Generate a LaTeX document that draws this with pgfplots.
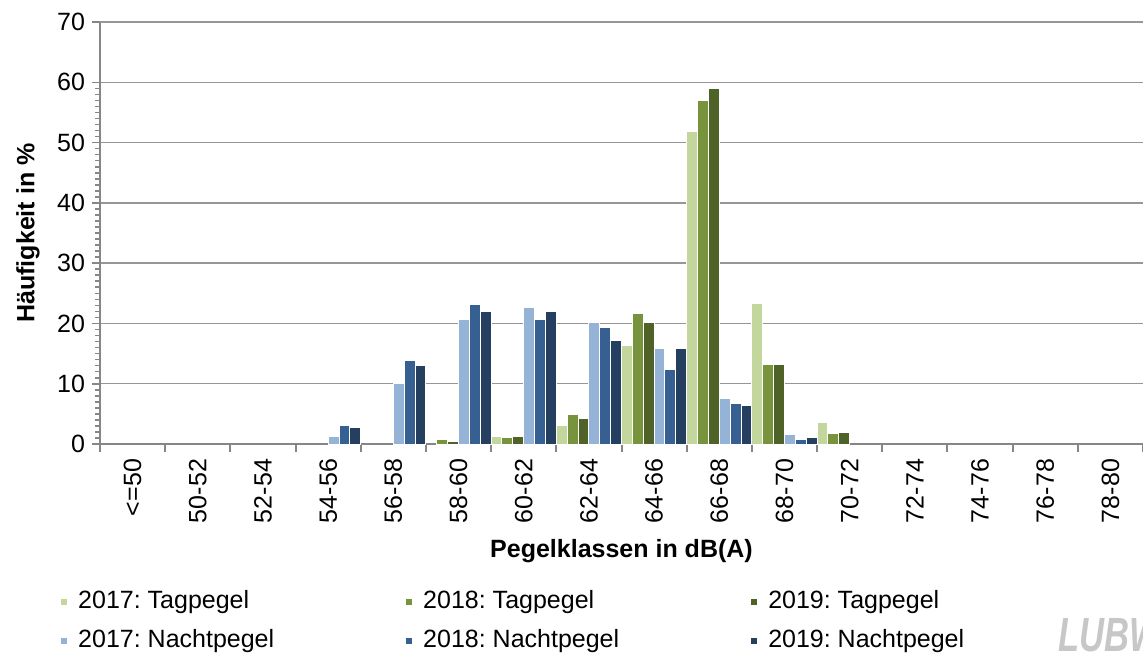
\documentclass[border=0pt]{standalone}
\usepackage{fontspec}
\setmainfont{Liberation Sans}
\usepackage{pgfplots}
\pgfplotsset{compat=1.18}
\definecolor{tA}{HTML}{C3D69B}
\definecolor{tB}{HTML}{77933C}
\definecolor{tC}{HTML}{4F6228}
\definecolor{nA}{HTML}{95B3D7}
\definecolor{nB}{HTML}{376092}
\definecolor{nC}{HTML}{243F60}
\definecolor{axgray}{HTML}{868686}
\definecolor{gridgray}{HTML}{969696}
\newcommand\cf{\fontsize{12.5}{15}\selectfont}
\frenchspacing
\begin{document}
\begin{tikzpicture}
\begin{axis}[
  at={(0,0)}, anchor=south west,
  scale only axis, width=521.5pt, height=211pt,
  font=\cf,
  ybar=0pt, bar width=0.16667,
  xmin=-0.5, xmax=15.5, ymin=0, ymax=70,
  enlargelimits=false,
  axis x line*=bottom, axis y line*=left,
  axis line style={axgray, line width=1pt},
  xtick={0,...,15},
  xticklabels={{<=50},{50-52},{52-54},{54-56},{56-58},{58-60},{60-62},{62-64},{64-66},{66-68},{68-70},{70-72},{72-74},{74-76},{76-78},{78-80}},
  x tick label style={rotate=90, anchor=east, font=\cf},
  major x tick style={draw=none},
  extra x ticks={-0.5,0.5,...,15.5},
  extra x tick labels={},
  extra x tick style={major tick length=4pt, tick align=outside, major x tick style={draw=axgray, line width=1pt}},
  ytick={0,10,...,60},
  extra y ticks={70},
  extra y tick style={grid style={draw=black!65, line width=1pt}},
  minor y tick num=9,
  y tick label style={font=\cf},
  /pgf/number format/assume math mode=true,
  tick align=outside,
  major tick length=4pt, minor tick length=2.5pt,
  every tick/.style={draw=axgray, line width=0.8pt},
  ymajorgrids,
  major grid style={draw=gridgray, line width=0.7pt},
  ylabel={\bfseries Häufigkeit in \%},
  ylabel style={at={(axis description cs:-0.069,0.5)}, anchor=center, font=\cf},
  xlabel={\bfseries Pegelklassen in dB(A)},
  xlabel style={at={(axis description cs:0.5,-0.2536)}, anchor=center, font=\cf},
  legend columns=3,
  legend cell align=left,
  legend image code/.code={\fill[#1] (0pt,-1.7pt) rectangle (3.4pt,1.7pt); \path (7pt,0pt);},
  legend style={at={(axis description cs:-0.0385,-0.338)}, anchor=north west, draw=none, fill=none, inner sep=0pt,
    font=\cf, row sep=5pt,
    nodes={inner sep=1.5pt, text height=9pt, text depth=2.7pt}},
]
\addplot[fill=tA, draw=white, line width=0.5pt] coordinates {(6,1.3) (7,3.0) (8,16.4) (9,51.9) (10,23.3) (11,3.6)};
\addlegendentry{\makebox[162pt][l]{2017: Tagpegel}}
\addplot[fill=tB, draw=white, line width=0.5pt] coordinates {(5,0.7) (6,1.05) (7,4.9) (8,21.7) (9,57.0) (10,13.2) (11,1.7)};
\addlegendentry{\makebox[162pt][l]{2018: Tagpegel}}
\addplot[fill=tC, draw=white, line width=0.5pt] coordinates {(5,0.45) (6,1.3) (7,4.3) (8,20.1) (9,58.9) (10,13.2) (11,1.9)};
\addlegendentry{2019: Tagpegel}
\addplot[fill=nA, draw=white, line width=0.5pt] coordinates {(3,1.3) (4,10.1) (5,20.6) (6,22.7) (7,20.2) (8,15.9) (9,7.5) (10,1.5)};
\addlegendentry{\makebox[162pt][l]{2017: Nachtpegel}}
\addplot[fill=nB, draw=white, line width=0.5pt] coordinates {(3,3.0) (4,13.9) (5,23.2) (6,20.6) (7,19.3) (8,12.4) (9,6.8) (10,0.8)};
\addlegendentry{\makebox[162pt][l]{2018: Nachtpegel}}
\addplot[fill=nC, draw=white, line width=0.5pt] coordinates {(3,2.8) (4,13.0) (5,21.9) (6,21.9) (7,17.2) (8,15.8) (9,6.4) (10,1.1)};
\addlegendentry{2019: Nachtpegel}
\end{axis}
\node[anchor=west, text=black!22, inner sep=0pt] at (479pt,-95.5pt) {\scalebox{0.72}[1]{\fontsize{24}{24}\selectfont\bfseries\itshape LUBW}};
\pgfresetboundingbox
\path[use as bounding box] (-50pt,-105.5pt) rectangle (521.5pt,222pt);
\end{tikzpicture}
\end{document}
